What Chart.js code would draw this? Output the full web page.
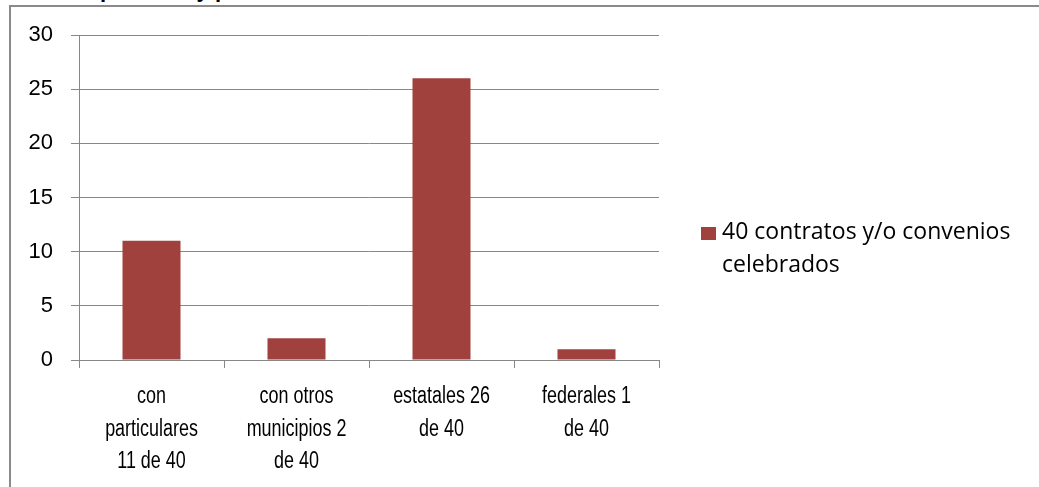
<!DOCTYPE html>
<html>
<head>
<meta charset="utf-8">
<script src="https://cdn.jsdelivr.net/npm/chart.js@4"></script>
<style>
  html, body { margin:0; padding:0; background:#fff; width:1039px; height:487px; overflow:hidden; }
  #wrap { position:absolute; left:0; top:0; width:1039px; height:487px; }
  #frame { position:absolute; left:9px; top:5px; width:1100px; height:600px; border-left:2px solid #8a8a8a; border-top:2px solid #8a8a8a; }
  #title { position:absolute; left:100px; top:-21px; font:bold 22px "Liberation Sans", Arial, sans-serif; line-height:22px; white-space:nowrap; color:#000; }
  #legend { position:absolute; left:701px; top:214px; font:23px "Open Sans", sans-serif; line-height:33px; color:#000; }
  #legend .box { position:absolute; left:0; top:13px; width:15px; height:13px; background:#A0413E; }
  #legend .txt { position:absolute; left:21px; top:0; white-space:nowrap; }
  canvas { position:absolute; left:0; top:0; }
</style>
</head>
<body>
<div id="wrap">
  <div id="title">públicos y privados</div>
  <div id="frame"></div>
  <canvas id="c" width="1039" height="487"></canvas>
  <div id="legend"><div class="box"></div><div class="txt" id="legtxt"></div></div>
</div>
<script>
const categories = [
  ["con", "particulares", "11 de 40"],
  ["con otros", "municipios 2", "de 40"],
  ["estatales 26", "de 40"],
  ["federales 1", "de 40"]
];
const seriesLabel = ["40 contratos y/o convenios", "celebrados"];
const values = [11, 2, 26, 1];
const yTicks = [0, 5, 10, 15, 20, 25, 30];

document.getElementById('legtxt').innerHTML = seriesLabel.join('<br>');

const grey = '#878787';

// Draws the category labels of the x scale, horizontally condensed like the original
const condensedXLabels = {
  id: 'condensedXLabels',
  afterDraw(chart) {
    const xs = chart.scales.x;
    const ctx = chart.ctx;
    const firstBaseline = xs.bottom - 127 + 43;
    const lineH = 32.5;
    const sx = 0.78;
    ctx.save();
    ctx.font = '23px "Liberation Sans", Arial, sans-serif';
    ctx.fillStyle = '#000';
    ctx.textAlign = 'center';
    ctx.textBaseline = 'alphabetic';
    chart.data.labels.forEach((lines, i) => {
      const cx = xs.getPixelForValue(i);
      lines.forEach((t, j) => {
        ctx.save();
        ctx.translate(cx, firstBaseline + j * lineH);
        ctx.scale(sx, 1);
        ctx.fillText(t, 0, 0);
        ctx.restore();
      });
    });
    ctx.restore();
  }
};

new Chart(document.getElementById('c'), {
  type: 'bar',
  data: {
    labels: categories,
    datasets: [{
      label: seriesLabel.join(' '),
      data: values,
      backgroundColor: '#A0413E',
      borderWidth: 0,
      categoryPercentage: 1.0,
      barPercentage: 0.4
    }]
  },
  plugins: [condensedXLabels],
  options: {
    responsive: false,
    animation: false,
    layout: { padding: { left: 0, top: 35, right: 380, bottom: 0 } },
    plugins: { legend: { display: false }, tooltip: { enabled: false }, title: { display: false } },
    scales: {
      y: {
        min: 0, max: 30,
        afterBuildTicks: (s) => { s.ticks = yTicks.map(v => ({ value: v })); },
        afterFit: (s) => { s.width = 79; },
        grid: { color: grey, lineWidth: 1, tickLength: 8, drawTicks: true },
        border: { color: grey, width: 1 },
        ticks: { color: '#000', padding: 18, font: { family: '"Liberation Sans", Arial, sans-serif', size: 22 } }
      },
      x: {
        afterFit: (s) => { s.height = 127; },
        grid: { display: true, drawOnChartArea: false, color: grey, lineWidth: 1, tickLength: 8, offset: true },
        border: { color: grey, width: 1 },
        ticks: { display: false, autoSkip: false, maxRotation: 0 }
      }
    }
  }
});
</script>
</body>
</html>
